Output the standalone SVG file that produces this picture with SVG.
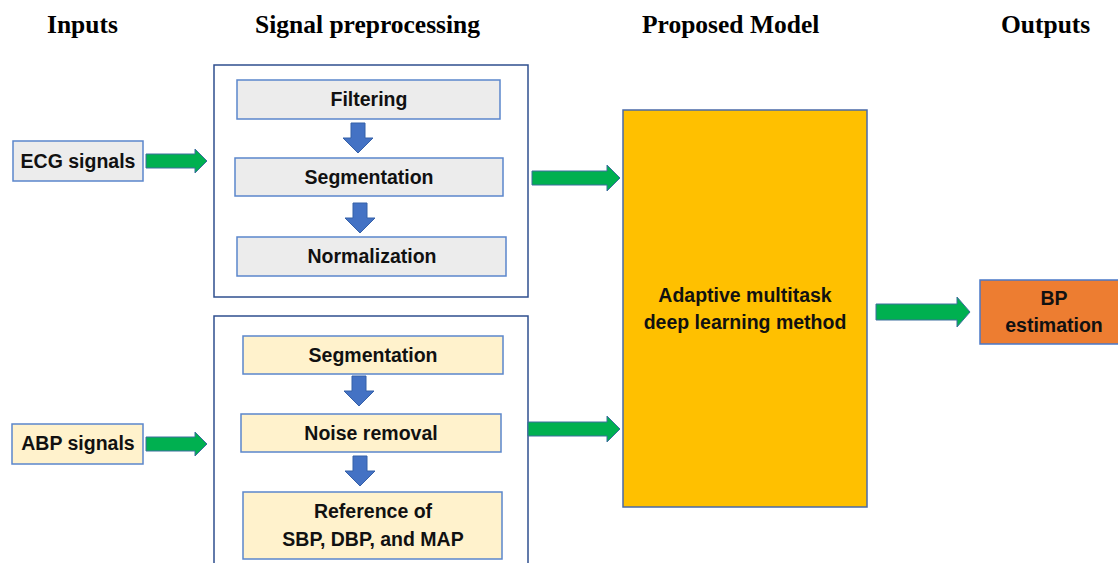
<svg xmlns="http://www.w3.org/2000/svg" width="1118" height="563" viewBox="0 0 1118 563">
  <style>
    .hdr { font-family: "Liberation Serif", "Times New Roman", serif; font-weight: bold; font-size: 25.5px; fill: #000; }
    .lbl { font-family: "Liberation Sans", Arial, sans-serif; font-weight: bold; font-size: 19.5px; fill: #111; text-anchor: middle; }
    .grey { fill: #ececec; stroke: #5b86cc; stroke-width: 1.5; }
    .cream { fill: #fff2cc; stroke: #5b86cc; stroke-width: 1.5; }
    .frame { fill: #fff; stroke: #2f4f8f; stroke-width: 1.5; }
    .model { fill: #ffc000; stroke: #4a6aa8; stroke-width: 1.5; }
    .out { fill: #ed7d31; stroke: #4a78c8; stroke-width: 1.5; }
    .green { fill: #00b050; stroke: #3d6f9e; stroke-width: 1; }
    .blue { fill: #4472c4; stroke: #3560a8; stroke-width: 1; }
  </style>
  <defs>
    <!-- downward block arrow, origin at top centre -->
    <path id="down" class="blue" d="M-7,0 H7 V15 H15 L0,30 L-15,15 H-7 Z"/>
  </defs>

  <!-- column headings -->
  <text class="hdr" x="47" y="33">Inputs</text>
  <text class="hdr" x="255" y="33">Signal preprocessing</text>
  <text class="hdr" x="642" y="33">Proposed Model</text>
  <text class="hdr" x="1001" y="33">Outputs</text>

  <!-- preprocessing frames -->
  <g id="ecg-preprocessing">
    <rect class="frame" x="214" y="65" width="314" height="232"/>
  </g>
  <g id="abp-preprocessing">
    <rect class="frame" x="214" y="316" width="314" height="260"/>
  </g>

  <g id="ecg-signals">
    <rect class="grey" x="13" y="141" width="130" height="40"/>
    <text class="lbl" x="78" y="168">ECG signals</text>
  </g>
  <g id="abp-signals">
    <rect class="cream" x="12" y="424" width="131" height="40"/>
    <text class="lbl" x="78" y="450">ABP signals</text>
  </g>

  <g id="filtering">
    <rect class="grey" x="237" y="80" width="263" height="39"/>
    <text class="lbl" x="369" y="106">Filtering</text>
  </g>
  <g id="ecg-segmentation">
    <rect class="grey" x="235" y="158" width="268" height="38"/>
    <text class="lbl" x="369" y="184">Segmentation</text>
  </g>
  <g id="normalization">
    <rect class="grey" x="237" y="237" width="269" height="39"/>
    <text class="lbl" x="372" y="263">Normalization</text>
  </g>

  <g id="abp-segmentation">
    <rect class="cream" x="243" y="336" width="260" height="38"/>
    <text class="lbl" x="373" y="362">Segmentation</text>
  </g>
  <g id="noise-removal">
    <rect class="cream" x="241" y="414" width="260" height="38"/>
    <text class="lbl" x="371" y="440">Noise removal</text>
  </g>
  <g id="reference">
    <rect class="cream" x="243" y="492" width="259" height="67"/>
    <text class="lbl" x="373" y="518">Reference of</text>
    <text class="lbl" x="373" y="546">SBP, DBP, and MAP</text>
  </g>

  <g id="model">
    <rect class="model" x="623" y="110" width="244" height="397"/>
    <text class="lbl" x="745" y="302">Adaptive multitask</text>
    <text class="lbl" x="745" y="329">deep learning method</text>
  </g>

  <g id="bp-estimation">
    <rect class="out" x="980" y="280" width="145" height="64"/>
    <text class="lbl" x="1054" y="305">BP</text>
    <text class="lbl" x="1054" y="332">estimation</text>
  </g>

  <!-- connectors -->
  <g id="connectors">
    <path class="green" d="M146,154 H195 V149 L207,161 L195,173 V168 H146 Z"/>
    <path class="green" d="M146,437 H195 V432 L207,444 L195,456 V451 H146 Z"/>
    <path class="green" d="M532,171 H607 V165 L620,178 L607,191 V185 H532 Z"/>
    <path class="green" d="M528,422 H607 V416 L620,429 L607,442 V436 H528 Z"/>
    <path class="green" d="M876,304 H957 V297 L970,312 L957,327 V320 H876 Z"/>
    <use href="#down" x="358" y="123"/>
    <use href="#down" x="360" y="203"/>
    <use href="#down" x="359" y="376"/>
    <use href="#down" x="360" y="456"/>
  </g>
</svg>
